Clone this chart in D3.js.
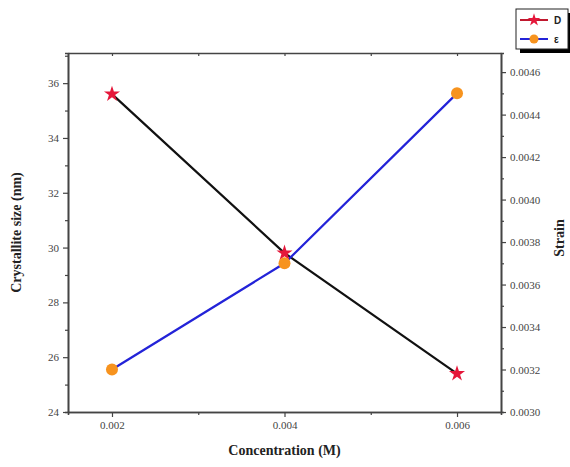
<!DOCTYPE html>
<html>
<head>
<meta charset="utf-8">
<script src="https://cdn.jsdelivr.net/npm/d3@7"></script>
<style>
  body { margin: 0; background: #fff; }
  svg { display: block; }
  .tick text { font-family: "Liberation Serif", "DejaVu Serif", serif; font-size: 11px; fill: #444; }
  .axis-title { font-family: "Liberation Serif", "DejaVu Serif", serif; font-size: 14px; font-weight: bold; fill: #222; }
</style>
</head>
<body>
<div id="chart"></div>
<script>
//Chart data
var concentration = [0.002, 0.004, 0.006];
var crystalliteSize = [35.6, 29.8, 25.4];
var strain = [0.0032, 0.0037, 0.0045];
var xTicks = [0.002, 0.004, 0.006];
var leftTicks = [24, 26, 28, 30, 32, 34, 36];
var rightTicks = [0.0030, 0.0032, 0.0034, 0.0036, 0.0038, 0.0040, 0.0042, 0.0044, 0.0046];

var width = 570, height = 467;
var margin = { top: 53, right: 69, bottom: 55, left: 68 };

var svg = d3.select("#chart").append("svg")
    .attr("width", width)
    .attr("height", height);

var x = d3.scaleLinear().domain([0.00149, 0.00651]).range([margin.left, width - margin.right]);
var yLeft = d3.scaleLinear().domain([24, 37.1]).range([height - margin.bottom, margin.top]);
var yRight = d3.scaleLinear().domain([0.0030, 0.00469]).range([height - margin.bottom, margin.top]);

//Minor ticks halfway between the majors
var xMinor = [0.003, 0.005];
var leftMinor = [25, 27, 29, 31, 33, 35, 37];
var rightMinor = [0.0031, 0.0033, 0.0035, 0.0037, 0.0039, 0.0041, 0.0043, 0.0045];

function styleAxis(g) {
    g.select(".domain").attr("stroke", "#444").attr("stroke-width", 1.6);
    g.selectAll(".tick line").attr("stroke", "#444").attr("stroke-width", 1.2);
}

//Minor tick axes, drawn first with no labels
svg.append("g").attr("transform", "translate(0," + yLeft.range()[0] + ")")
    .call(d3.axisBottom(x).tickValues(xMinor).tickSize(3).tickFormat(""))
    .call(styleAxis);
svg.append("g").attr("transform", "translate(" + margin.left + ",0)")
    .call(d3.axisLeft(yLeft).tickValues(leftMinor).tickSize(3).tickFormat(""))
    .call(styleAxis);
svg.append("g").attr("transform", "translate(" + (width - margin.right) + ",0)")
    .call(d3.axisRight(yRight).tickValues(rightMinor).tickSize(3).tickFormat(""))
    .call(styleAxis);

//Bottom axis
svg.append("g").attr("transform", "translate(0," + yLeft.range()[0] + ")")
    .call(d3.axisBottom(x).tickValues(xTicks).tickSize(5).tickSizeOuter(0).tickPadding(4).tickFormat(d3.format(".3f")))
    .call(styleAxis);

//Top axis, ticks pointing in
svg.append("g").attr("transform", "translate(0," + margin.top + ")")
    .call(d3.axisBottom(x).tickValues(xTicks.concat(xMinor)).tickSize(3).tickSizeOuter(0).tickFormat(""))
    .call(styleAxis);

//Left axis
svg.append("g").attr("transform", "translate(" + margin.left + ",0)")
    .call(d3.axisLeft(yLeft).tickValues(leftTicks).tickSize(5).tickSizeOuter(0).tickPadding(4))
    .call(styleAxis);

//Right axis
svg.append("g").attr("transform", "translate(" + (width - margin.right) + ",0)")
    .call(d3.axisRight(yRight).tickValues(rightTicks).tickSize(5).tickSizeOuter(0).tickPadding(4).tickFormat(d3.format(".4f")))
    .call(styleAxis);

//Axis titles
svg.append("text").attr("class", "axis-title")
    .attr("x", (x.range()[0] + x.range()[1]) / 2)
    .attr("y", 455)
    .attr("text-anchor", "middle")
    .text("Concentration (M)");

svg.append("text").attr("class", "axis-title")
    .attr("transform", "translate(21," + ((margin.top + yLeft.range()[0]) / 2) + ") rotate(-90)")
    .attr("text-anchor", "middle")
    .text("Crystallite size (nm)");

svg.append("text").attr("class", "axis-title")
    .attr("transform", "translate(564,238) rotate(-90)")
    .attr("text-anchor", "middle")
    .text("Strain");

//Series lines
var sizeLine = d3.line().x((d, i) => x(concentration[i])).y(d => yLeft(d));
var strainLine = d3.line().x((d, i) => x(concentration[i])).y(d => yRight(d));

svg.append("path").datum(crystalliteSize)
    .attr("d", sizeLine)
    .attr("fill", "none")
    .attr("stroke", "#111")
    .attr("stroke-width", 2.2);

svg.append("path").datum(strain)
    .attr("d", strainLine)
    .attr("fill", "none")
    .attr("stroke", "#2323d8")
    .attr("stroke-width", 2.2);

var star = d3.symbol().type(d3.symbolStar).size(80);

//Star markers for crystallite size
svg.selectAll(".star").data(crystalliteSize).enter()
    .append("path")
    .attr("class", "star")
    .attr("d", star)
    .attr("transform", (d, i) => "translate(" + x(concentration[i]) + "," + yLeft(d) + ")")
    .attr("fill", "#e5173a");

//Circle markers for strain
svg.selectAll(".dot").data(strain).enter()
    .append("circle")
    .attr("class", "dot")
    .attr("cx", (d, i) => x(concentration[i]))
    .attr("cy", d => yRight(d))
    .attr("r", 6)
    .attr("fill", "#f7931e");

//Legend box with shadow
var legend = svg.append("g");
legend.append("rect").attr("x", 520).attr("y", 13).attr("width", 52).attr("height", 40).attr("fill", "#000");
legend.append("rect").attr("x", 516).attr("y", 9).attr("width", 52).attr("height", 40)
    .attr("fill", "#fff").attr("stroke", "#222").attr("stroke-width", 1);

var legendItems = [
    { label: "D", color: "#111", y: 20 },
    { label: "\u03b5", color: "#2323d8", y: 39 }
];

legendItems.forEach(function(item, i) {
    legend.append("line")
        .attr("x1", 520).attr("x2", 548)
        .attr("y1", item.y).attr("y2", item.y)
        .attr("stroke", i === 0 ? "#c0182e" : item.color)
        .attr("stroke-width", 2);
    if (i === 0) {
        legend.append("path").attr("d", d3.symbol().type(d3.symbolStar).size(50))
            .attr("transform", "translate(534," + item.y + ")")
            .attr("fill", "#e5173a");
    } else {
        legend.append("circle").attr("cx", 534).attr("cy", item.y).attr("r", 4.5).attr("fill", "#f7931e");
    }
    legend.append("text")
        .attr("x", 554).attr("y", item.y + 4)
        .attr("font-family", "Liberation Sans, Arial, sans-serif")
        .attr("font-size", 10)
        .attr("font-weight", "bold")
        .attr("fill", "#222")
        .text(item.label);
});
</script>
</body>
</html>
